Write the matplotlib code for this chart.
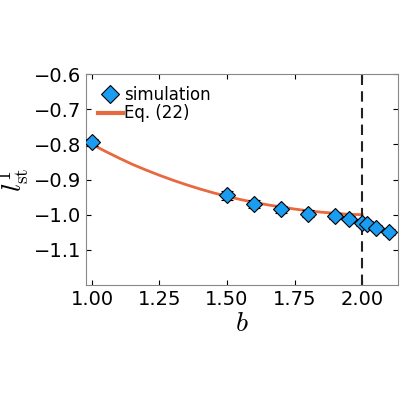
import numpy as np
import matplotlib.pyplot as plt
from matplotlib.lines import Line2D

plt.rcParams['mathtext.fontset'] = 'cm'

b_sim = [1.0, 1.5, 1.6, 1.7, 1.8, 1.9, 1.95, 2.0, 2.02, 2.05, 2.1]
l_sim = [-0.794, -0.945, -0.970, -0.985, -0.997, -1.003, -1.011, -1.023, -1.027, -1.037, -1.049]
l_err = [0.010, 0.012, 0.012, 0.010, 0.010, 0.008, 0.008, 0.010, 0.008, 0.008, 0.008]

b_eq = [1.0, 1.05, 1.1, 1.15, 1.2, 1.25, 1.3, 1.35, 1.4, 1.45, 1.5, 1.55, 1.6, 1.65, 1.7,
        1.75, 1.8, 1.85, 1.9, 1.95, 2.0]
l_eq = [-0.800, -0.820, -0.839, -0.857, -0.873, -0.888, -0.902, -0.915, -0.927, -0.938, -0.948,
        -0.957, -0.965, -0.972, -0.978, -0.984, -0.989, -0.993, -0.996, -0.999, -1.000]

fig = plt.figure(figsize=(4, 4), dpi=100)
ax = fig.add_axes([0.215, 0.2875, 0.78, 0.5275])

ax.plot(b_eq, l_eq, color='#e8693f', lw=2, zorder=2)
ax.errorbar(b_sim, l_sim, yerr=l_err, fmt='D', ms=8, mfc='#1a9cf0', mec='black', mew=0.8,
            ecolor='black', elinewidth=0.8, capsize=4, zorder=3)
ax.axvline(2.0, color='#222222', ls=(0, (5, 3)), lw=1.5)

ax.set_xlim(0.978, 2.133)
ax.set_ylim(-1.2, -0.6)
ax.set_xticks([1.0, 1.25, 1.5, 1.75, 2.0])
ax.set_yticks([-1.1, -1.0, -0.9, -0.8, -0.7, -0.6])
ax.tick_params(direction='in', top=True, right=True, labelsize=14)
for s in ax.spines.values():
    s.set_color('#888888')
ax.set_xlabel('$b$', fontsize=20, labelpad=0)
ax.set_ylabel(r'$l^{1}_{\rm st}$', fontsize=20, labelpad=2)

handles = [Line2D([], [], ls='none', marker='D', ms=9, mfc='#1a9cf0', mec='black', mew=0.8),
           Line2D([], [], color='#e8693f', lw=3)]
ax.legend(handles, ['simulation', 'Eq. (22)'], loc='upper left', frameon=False, fontsize=12,
          handlelength=1.5, handletextpad=0.1, borderaxespad=0.3, labelspacing=0.05)

fig.savefig('out.png', dpi=100)
